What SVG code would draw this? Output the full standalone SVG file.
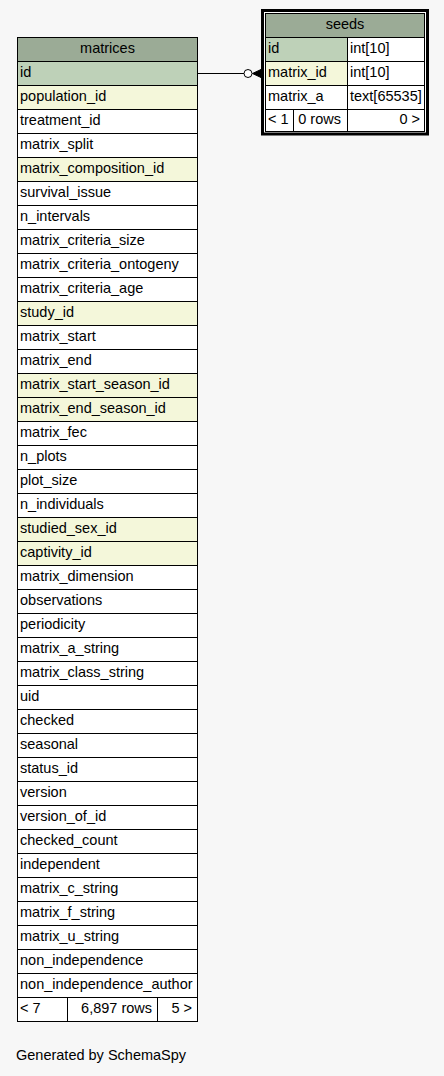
<svg xmlns="http://www.w3.org/2000/svg" width="444" height="1076" viewBox="0 0 444 1076">
<style>
.bg{fill:#f7f7f7}
.c{stroke:#000;stroke-width:1;fill:#fff}
.h{fill:#9bab96}
.pk{fill:#bed1b8}
.fk{fill:#f4f7da}
.t{font-family:"Liberation Sans",Arial,Helvetica,sans-serif;font-size:14.5px;fill:#000}
.m{text-anchor:middle}
.e{text-anchor:end}
.edge{stroke:#000;stroke-width:1;fill:none}
</style>
<rect class="bg" x="0" y="0" width="444" height="1076"/>
<g id="connectors">
<path class="edge" d="M197.5,73.5 H244"/>
<circle cx="248" cy="73.5" r="4" fill="#fff" stroke="#000" stroke-width="1"/>
<path d="M252.5,73.5 L261,69.5 L261,77.5 Z" fill="#000" stroke="#000" stroke-width="1"/>
</g>
<g id="matrices">
<rect class="c h" x="17.5" y="37.5" width="180" height="24"/>
<text class="t m" x="107.5" y="53">matrices</text>
<rect class="c pk" x="17.5" y="61.5" width="180" height="24"/><text class="t" x="20" y="77">id</text>
<rect class="c fk" x="17.5" y="85.5" width="180" height="24"/><text class="t" x="20" y="101">population_id</text>
<rect class="c" x="17.5" y="109.5" width="180" height="24"/><text class="t" x="20" y="125">treatment_id</text>
<rect class="c" x="17.5" y="133.5" width="180" height="24"/><text class="t" x="20" y="149">matrix_split</text>
<rect class="c fk" x="17.5" y="157.5" width="180" height="24"/><text class="t" x="20" y="173">matrix_composition_id</text>
<rect class="c" x="17.5" y="181.5" width="180" height="24"/><text class="t" x="20" y="197">survival_issue</text>
<rect class="c" x="17.5" y="205.5" width="180" height="24"/><text class="t" x="20" y="221">n_intervals</text>
<rect class="c" x="17.5" y="229.5" width="180" height="24"/><text class="t" x="20" y="245">matrix_criteria_size</text>
<rect class="c" x="17.5" y="253.5" width="180" height="24"/><text class="t" x="20" y="269">matrix_criteria_ontogeny</text>
<rect class="c" x="17.5" y="277.5" width="180" height="24"/><text class="t" x="20" y="293">matrix_criteria_age</text>
<rect class="c fk" x="17.5" y="301.5" width="180" height="24"/><text class="t" x="20" y="317">study_id</text>
<rect class="c" x="17.5" y="325.5" width="180" height="24"/><text class="t" x="20" y="341">matrix_start</text>
<rect class="c" x="17.5" y="349.5" width="180" height="24"/><text class="t" x="20" y="365">matrix_end</text>
<rect class="c fk" x="17.5" y="373.5" width="180" height="24"/><text class="t" x="20" y="389">matrix_start_season_id</text>
<rect class="c fk" x="17.5" y="397.5" width="180" height="24"/><text class="t" x="20" y="413">matrix_end_season_id</text>
<rect class="c" x="17.5" y="421.5" width="180" height="24"/><text class="t" x="20" y="437">matrix_fec</text>
<rect class="c" x="17.5" y="445.5" width="180" height="24"/><text class="t" x="20" y="461">n_plots</text>
<rect class="c" x="17.5" y="469.5" width="180" height="24"/><text class="t" x="20" y="485">plot_size</text>
<rect class="c" x="17.5" y="493.5" width="180" height="24"/><text class="t" x="20" y="509">n_individuals</text>
<rect class="c fk" x="17.5" y="517.5" width="180" height="24"/><text class="t" x="20" y="533">studied_sex_id</text>
<rect class="c fk" x="17.5" y="541.5" width="180" height="24"/><text class="t" x="20" y="557">captivity_id</text>
<rect class="c" x="17.5" y="565.5" width="180" height="24"/><text class="t" x="20" y="581">matrix_dimension</text>
<rect class="c" x="17.5" y="589.5" width="180" height="24"/><text class="t" x="20" y="605">observations</text>
<rect class="c" x="17.5" y="613.5" width="180" height="24"/><text class="t" x="20" y="629">periodicity</text>
<rect class="c" x="17.5" y="637.5" width="180" height="24"/><text class="t" x="20" y="653">matrix_a_string</text>
<rect class="c" x="17.5" y="661.5" width="180" height="24"/><text class="t" x="20" y="677">matrix_class_string</text>
<rect class="c" x="17.5" y="685.5" width="180" height="24"/><text class="t" x="20" y="701">uid</text>
<rect class="c" x="17.5" y="709.5" width="180" height="24"/><text class="t" x="20" y="725">checked</text>
<rect class="c" x="17.5" y="733.5" width="180" height="24"/><text class="t" x="20" y="749">seasonal</text>
<rect class="c" x="17.5" y="757.5" width="180" height="24"/><text class="t" x="20" y="773">status_id</text>
<rect class="c" x="17.5" y="781.5" width="180" height="24"/><text class="t" x="20" y="797">version</text>
<rect class="c" x="17.5" y="805.5" width="180" height="24"/><text class="t" x="20" y="821">version_of_id</text>
<rect class="c" x="17.5" y="829.5" width="180" height="24"/><text class="t" x="20" y="845">checked_count</text>
<rect class="c" x="17.5" y="853.5" width="180" height="24"/><text class="t" x="20" y="869">independent</text>
<rect class="c" x="17.5" y="877.5" width="180" height="24"/><text class="t" x="20" y="893">matrix_c_string</text>
<rect class="c" x="17.5" y="901.5" width="180" height="24"/><text class="t" x="20" y="917">matrix_f_string</text>
<rect class="c" x="17.5" y="925.5" width="180" height="24"/><text class="t" x="20" y="941">matrix_u_string</text>
<rect class="c" x="17.5" y="949.5" width="180" height="24"/><text class="t" x="20" y="965">non_independence</text>
<rect class="c" x="17.5" y="973.5" width="180" height="24"/><text class="t" x="20" y="989">non_independence_author</text>
<rect class="c" x="17.5" y="997.5" width="50" height="24"/>
<rect class="c" x="67.5" y="997.5" width="90" height="24"/>
<rect class="c" x="157.5" y="997.5" width="40" height="24"/>
<text class="t" x="20" y="1013">&lt; 7</text>
<text class="t e" x="152" y="1013">6,897 rows</text>
<text class="t e" x="192" y="1013">5 &gt;</text>
</g>
<g id="seeds">
<rect x="262.5" y="10.5" width="165" height="123.5" fill="#fff" stroke="#000" stroke-width="3"/>
<rect class="c h" x="265.5" y="13.5" width="159" height="24"/>
<text class="t m" x="345" y="29">seeds</text>
<rect class="c pk" x="265.5" y="37.5" width="82" height="24"/><text class="t" x="268" y="53">id</text>
<rect class="c" x="347.5" y="37.5" width="77" height="24"/><text class="t" x="350" y="53">int[10]</text>
<rect class="c fk" x="265.5" y="61.5" width="82" height="24"/><text class="t" x="268" y="77">matrix_id</text>
<rect class="c" x="347.5" y="61.5" width="77" height="24"/><text class="t" x="350" y="77">int[10]</text>
<rect class="c" x="265.5" y="85.5" width="82" height="24"/><text class="t" x="268" y="101">matrix_a</text>
<rect class="c" x="347.5" y="85.5" width="77" height="24"/><text class="t" x="350" y="101">text[65535]</text>
<rect class="c" x="265.5" y="109.5" width="28" height="22"/>
<rect class="c" x="293.5" y="109.5" width="54" height="22"/>
<rect class="c" x="347.5" y="109.5" width="77" height="22"/>
<text class="t" x="268" y="124">&lt; 1</text>
<text class="t e" x="341" y="124">0 rows</text>
<text class="t e" x="420" y="124">0 &gt;</text>
</g>
<text class="t" x="16" y="1060">Generated by SchemaSpy</text>
</svg>
